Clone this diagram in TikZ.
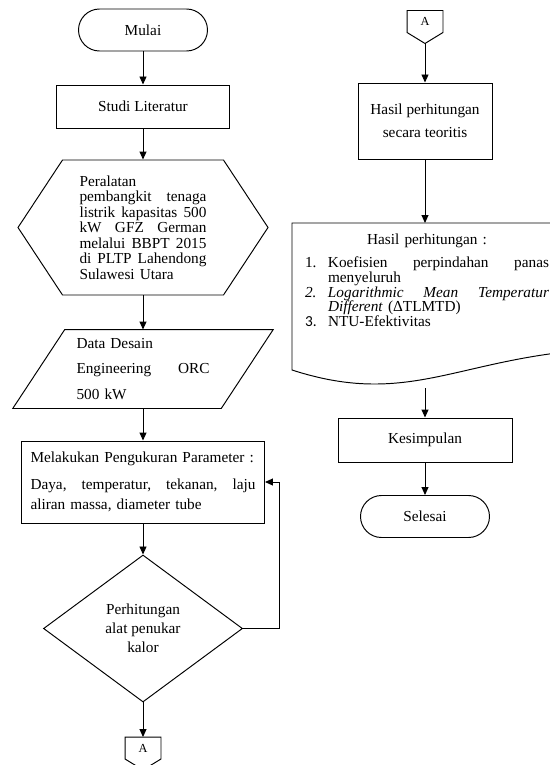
\documentclass[tikz,border=0pt]{standalone}
\usepackage{fontspec}
\setmainfont{Liberation Serif}
\newfontfamily\numfont{Carlito}
\usetikzlibrary{shapes.geometric, arrows.meta, calc}
\AtBeginDocument{\lineskiplimit=-5pt}
\tikzset{
    base/.style={draw, rectangle, inner sep=0pt, align=center, font=\fontsize{8.7}{10}\selectfont},
    term/.style={base, rounded corners=4.2mm, minimum width=2.58cm, minimum height=0.84cm},
    proc/.style={base, minimum height=0.86cm},
    plain/.style={inner sep=0pt, font=\fontsize{8.7}{8.85}\selectfont},
    offpage/.style={inner sep=0pt, minimum width=0.7cm, minimum height=0.42cm, font=\fontsize{7}{8}\selectfont},
    arrow/.style={-{Stealth[length=1.6mm, width=1.4mm, inset=0pt]}}
}

\begin{document}
\begin{tikzpicture}[line width=0.55pt]
\useasboundingbox (0,0) rectangle (11,-15.3);
\clip (0,0) rectangle (11,-15.3);

\node[term] (mulai) at (2.86,-0.6) {Mulai};
\node[proc, minimum width=3.46cm] (studi) at (2.86,-2.13) {Studi Literatur};
\node[plain, text width=2.54cm, minimum height=2.7cm, align=left] (alat) at (2.86,-4.55) {Peralatan\\ pembangkit\hfill tenaga\\ listrik\hfill kapasitas\hfill 500\\ kW\hfill GFZ\hfill German\\ melalui\hfill BBPT\hfill 2015\\ di\hfill PLTP\hfill Lahendong\\ Sulawesi Utara};
\draw[shift={(alat.center)}] (-1.61,1.35) -- (1.61,1.35) -- (2.5,0) -- (1.61,-1.35) -- (-1.61,-1.35) -- (-2.5,0) -- cycle;
\node[plain, text width=2.66cm, minimum width=4.15cm, minimum height=1.56cm, align=left, font=\fontsize{8.7}{14.7}\selectfont] (data) at (2.86,-7.38) {Data Desain\\ Engineering\hfill ORC\\ 500 kW};
\draw ($(data.north west)+(0.52,0)$) -- ($(data.north east)+(0.52,0)$) -- ($(data.south east)+(-0.52,0)$) -- ($(data.south west)+(-0.52,0)$) -- cycle;
\node[base, minimum width=4.86cm, minimum height=1.64cm, text width=4.5cm, align=left, font=\fontsize{8.7}{11.3}\selectfont] (ukur) at (2.86,-9.64) {Melakukan Pengukuran Parameter :\\[4pt] Daya,\hfill temperatur,\hfill tekanan,\hfill laju\\ aliran massa, diameter tube};
\node[draw, diamond, aspect=1.35, minimum width=3.98cm, minimum height=2.94cm, inner sep=0pt, align=center, font=\fontsize{8.7}{10.8}\selectfont] (hitung) at (2.86,-12.57) {Perhitungan\\ alat penukar\\ kalor};
\node[offpage] (a1) at (2.86,-14.96) {A};
\draw (a1.south west) -- (a1.north west) -- (a1.north east) -- (a1.south east) -- ($(a1.south)+(0,-0.22)$) -- cycle;

\node[offpage] (a2) at (8.5,-0.43) {A};
\draw (a2.south west) -- (a2.north west) -- (a2.north east) -- (a2.south east) -- ($(a2.south)+(0,-0.22)$) -- cycle;
\coordinate (a2tip) at ($(a2.south)+(0,-0.22)$);
\node[proc, minimum width=2.68cm, minimum height=1.52cm, font=\fontsize{8.7}{13}\selectfont] (teori) at (8.5,-2.42) {Hasil perhitungan\\ secara teoritis};
\coordinate (hasilNW) at (5.84,-4.46);
\draw[shift={(hasilNW)}] (0,0) -- (5.46,0) -- (5.46,-2.58) .. controls (3.16,-2.84) and (2.16,-3.64) .. (0,-2.94) -- cycle;
\node[plain, text width=4.88cm, anchor=north, align=left, font=\fontsize{8.7}{8.35}\selectfont] (hasil) at (8.54,-4.66) {\makebox[4.88cm]{Hasil perhitungan :}\\[0.18cm]
\makebox[0.46cm][l]{1.}Koefisien\hfill perpindahan\hfill panas\\
\hspace*{0.46cm}menyeluruh\\
\makebox[0.46cm][l]{\textit{2.}}\textit{Logarithmic\hfill Mean\hfill Temperatur}\\
\hspace*{0.46cm}\textit{Different} (ΔTLMTD)\\
\makebox[0.46cm][l]{\numfont 3.}NTU-Efektivitas};
\coordinate (hasilout) at (8.5,-7.76);
\node[proc, minimum width=3.48cm, minimum height=0.88cm] (simpul) at (8.5,-8.8) {Kesimpulan};
\node[term] (selesai) at (8.5,-10.33) {Selesai};

\draw[arrow] (mulai) -- (studi);
\draw[arrow] (studi) -- (alat);
\draw[arrow] (alat) -- (data);
\draw[arrow] (data) -- (ukur);
\draw[arrow] (ukur) -- (hitung);
\draw[arrow] (hitung.east) -- ++(0.72,0) |- (ukur.east);
\draw[arrow] (hitung) -- (a1);
\draw[arrow] (a2tip) -- (teori);
\draw[arrow] (teori.south) -- (teori.south |- hasilNW);
\draw[arrow] (hasilout) -- (simpul);
\draw[arrow] (simpul) -- (selesai);
\end{tikzpicture}
\end{document}
